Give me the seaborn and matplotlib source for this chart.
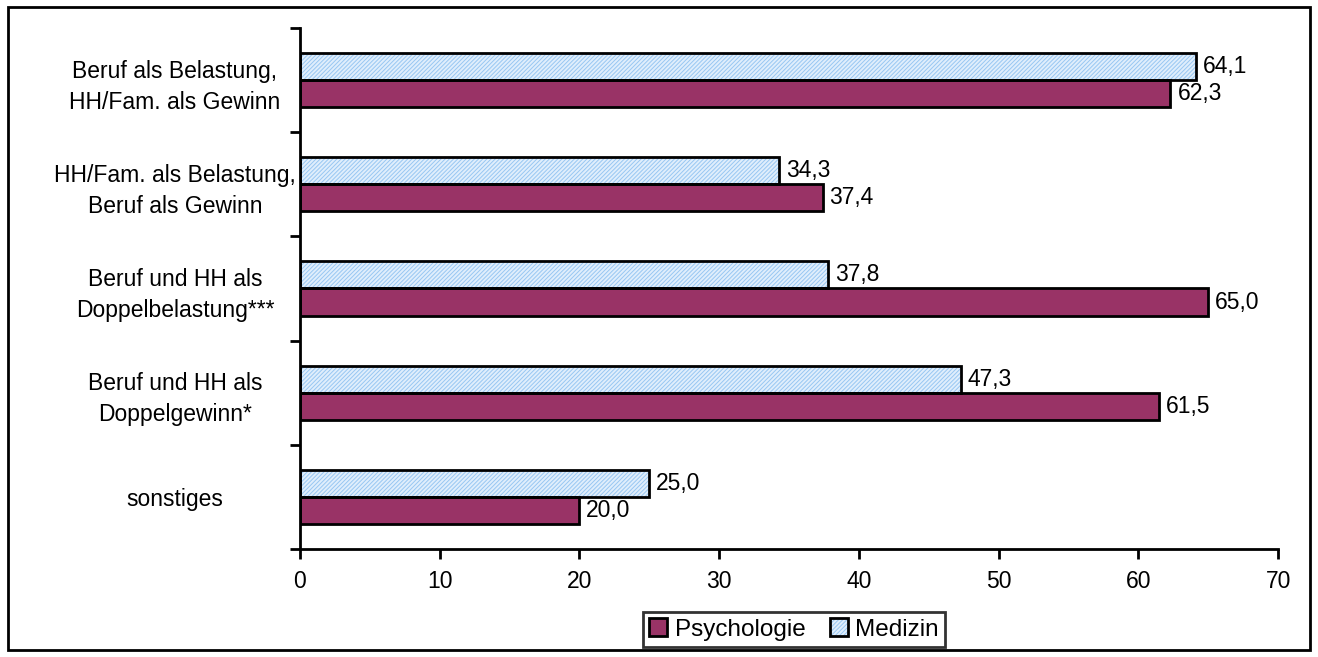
import matplotlib
matplotlib.use("Agg")
import matplotlib.pyplot as plt
import pandas as pd
import seaborn as sns
from matplotlib.patches import Patch, Rectangle

# data
categories = [
    "Beruf als Belastung,\nHH/Fam. als Gewinn",
    "HH/Fam. als Belastung,\nBeruf als Gewinn",
    "Beruf und HH als\nDoppelbelastung***",
    "Beruf und HH als\nDoppelgewinn*",
    "sonstiges",
]
medizin = [64.1, 34.3, 37.8, 47.3, 25.0]
psychologie = [62.3, 37.4, 65.0, 61.5, 20.0]
series = ["Medizin", "Psychologie"]

df = pd.DataFrame({
    "Kategorie": categories * 2,
    "Wert": medizin + psychologie,
    "Fach": ["Medizin"] * len(categories) + ["Psychologie"] * len(categories),
})

sns.set_style("white")
plt.rcParams["font.family"] = ["Liberation Sans", "DejaVu Sans"]
plt.rcParams["text.color"] = "black"
plt.rcParams["xtick.color"] = "black"
plt.rcParams["ytick.color"] = "black"
plt.rcParams["hatch.linewidth"] = 0.7

FS = 16.5
colors = {"Medizin": "#e0eefc", "Psychologie": "#993366"}
hatch_col = "#98c7f2"

fig = plt.figure(figsize=(13.18, 6.57), dpi=100)
ax = fig.add_axes([0.2276, 0.1644, 0.9697 - 0.2276, 0.9574 - 0.1644])

sns.barplot(
    data=df,
    x="Wert",
    y="Kategorie",
    hue="Fach",
    hue_order=series,
    order=categories,
    palette=colors,
    saturation=1,
    width=0.52,
    edgecolor="black",
    linewidth=2,
    ax=ax,
)

# Medizin bars: light blue fine hatch, black outline drawn on top
for patch in ax.containers[0]:
    patch.set_hatch("////////")
    patch.set_edgecolor(hatch_col)
    patch.set_linewidth(0)
    ax.add_patch(Rectangle(patch.get_xy(), patch.get_width(), patch.get_height(),
                           fill=False, edgecolor="black", linewidth=2, zorder=patch.get_zorder() + 0.1))

for bar_container in ax.containers:
    ax.bar_label(
        bar_container,
        labels=[f"{v:.1f}".replace(".", ",") for v in bar_container.datavalues],
        padding=5,
        fontsize=FS,
    )

ax.set_xlim(0, 70)
ax.set_xticks(range(0, 71, 10))
ax.set_xlabel("")
ax.set_ylabel("")

# ticks at category boundaries
ax.set_yticks([i - 0.5 for i in range(len(categories) + 1)], minor=True)
ax.tick_params(axis="y", which="major", length=0, labelsize=FS, pad=90)
ax.tick_params(axis="y", which="minor", length=7, width=2, direction="out", left=True)
ax.tick_params(axis="x", which="major", length=7, width=2, direction="out",
               bottom=True, labelsize=FS, pad=8)
ax.set_ylim(len(categories) - 0.5, -0.5)

sns.despine(ax=ax, top=True, right=True)
for side in ["left", "bottom"]:
    ax.spines[side].set_color("black")
    ax.spines[side].set_linewidth(2)

for lbl in ax.get_yticklabels():
    lbl.set_horizontalalignment("center")
    lbl.set_multialignment("center")
    lbl.set_linespacing(1.45)

# legend: Psychologie first
psy_handle = Patch(facecolor=colors["Psychologie"], edgecolor="black", linewidth=2)
med_handle = (
    Patch(facecolor=colors["Medizin"], edgecolor=hatch_col, linewidth=0, hatch="////////"),
    Patch(fill=False, edgecolor="black", linewidth=2),
)
leg = ax.legend(
    handles=[psy_handle, med_handle],
    labels=["Psychologie", "Medizin"],
    loc="upper center",
    bbox_to_anchor=(0.505, -0.098),
    ncol=2,
    frameon=True,
    fancybox=False,
    edgecolor="black",
    fontsize=17.5,
    handlelength=0.75,
    handleheight=0.75,
    handletextpad=0.3,
    columnspacing=1.0,
    borderpad=0.25,
    borderaxespad=0.5,
)
leg.get_frame().set_linewidth(2)

# outer frame
fig.patches.append(Rectangle((0.006, 0.011), 0.988, 0.978, transform=fig.transFigure,
                             fill=False, edgecolor="black", linewidth=2))

fig.savefig("out.png", dpi=100)
